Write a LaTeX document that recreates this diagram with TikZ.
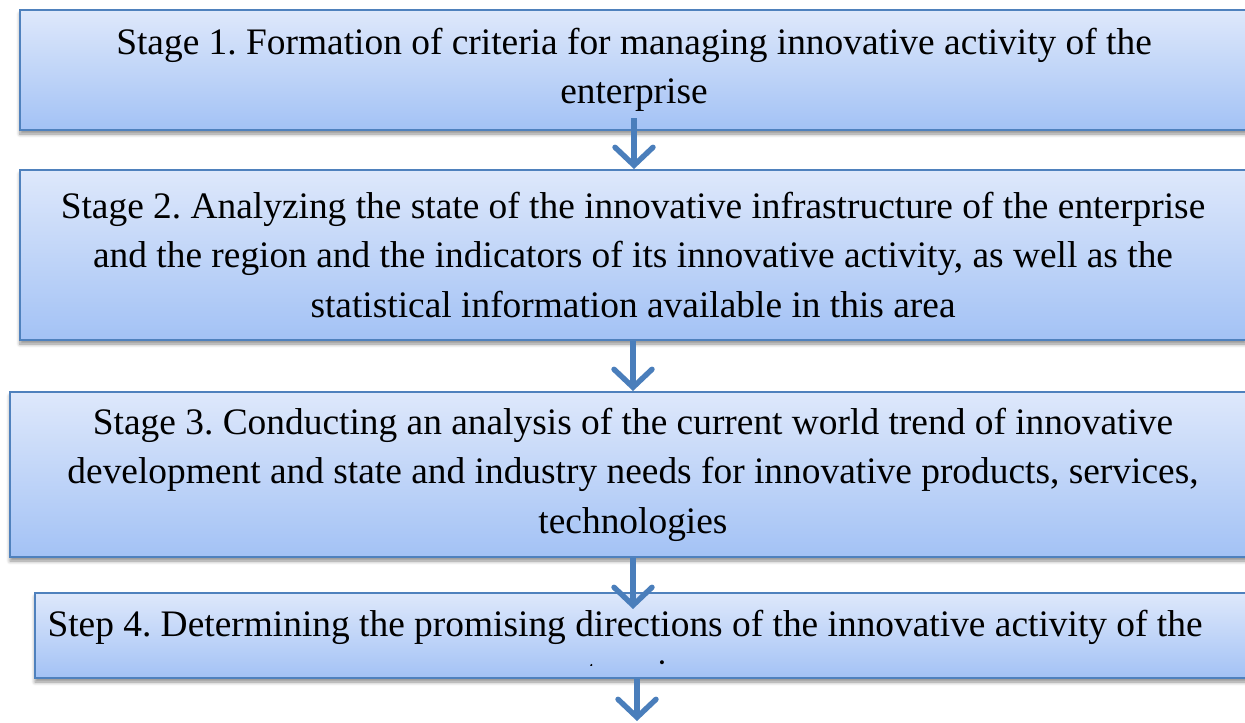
\documentclass[tikz,border=0pt]{standalone}
\usepackage{fontspec}
\setmainfont{Liberation Serif}
\usepackage{tikz}
\usetikzlibrary{arrows.meta,positioning,shadows.blur}
\definecolor{boxline}{RGB}{79,129,189}
\definecolor{boxtop}{RGB}{222,232,251}
\definecolor{boxbottom}{RGB}{163,194,245}
\definecolor{flowblue}{RGB}{74,126,187}
\frenchspacing

\begin{document}
\begin{tikzpicture}[x=0.5pt,y=-0.5pt]
                \tikzstyle{stagebox}=[draw=boxline, line width=1pt, top color=boxtop, bottom color=boxbottom,
                    rectangle, align=center, inner sep=0pt,
                    blur shadow={shadow xshift=0pt, shadow yshift=-2pt, shadow blur steps=6, shadow opacity=45},
                    font=\fontsize{18.7}{24.7}\selectfont]
                \tikzstyle{flow}=[draw=flowblue, line width=2.7pt, -{Straight Barb[length=9pt,width=19pt,line cap=round]}]
                \useasboundingbox (0,0) rectangle (1245,722);
                \clip (0,0) rectangle (1245,722);
                \node [stagebox, minimum width=614pt, minimum height=60pt] (s1) at (634,70)
                    {Stage 1. Formation of criteria for managing innovative activity of the\\ enterprise};
                \node [stagebox, minimum width=613pt, minimum height=85pt] (s2) at (633,255)
                    {Stage 2. Analyzing the state of the innovative infrastructure of the enterprise\\
                     and the region and the indicators of its innovative activity, as well as the\\
                     statistical information available in this area};
                \node [stagebox, minimum width=623pt, minimum height=82.5pt] (s3) at (633,474.5)
                    {Stage 3. Conducting an analysis of the current world trend of innovative\\
                     development and state and industry needs for innovative products, services,\\
                     technologies};
                \node [stagebox, minimum width=615pt, minimum height=42.5pt] (s4) at (650,635.5) {};
                \begin{scope}
                    \clip (35,593) rectangle (1245,665.5);
                    \node [font=\fontsize{18.7}{24.7}\selectfont, align=center, inner sep=0pt] (s4t) at (625,652)
                        {Step 4. Determining the promising directions of the innovative activity of the\\ enterprise};
                \end{scope}
                \coordinate [below=21pt of s4.south] (next);
                \draw [flow] ([yshift=6.5pt]s1.south) -- (s1.south |- s2.north);
                \draw [flow] (s2.south) -- (s2.south |- s3.north);
                \draw [flow] (s3.south) -- ([yshift=-8.5pt]s3.south |- s4.north);
                \draw [flow] ([xshift=-6.5pt]s4.south) -- ([xshift=-6.5pt]next);
\end{tikzpicture}
\end{document}
